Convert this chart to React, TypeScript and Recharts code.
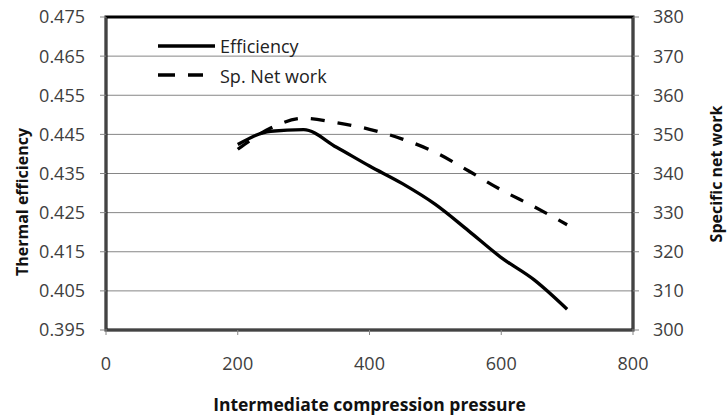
import React from 'react'
import {
  ComposedChart,
  Line,
  XAxis,
  YAxis,
  CartesianGrid,
  ReferenceArea,
  Legend,
} from 'recharts'

const pressure = [200, 250, 300, 350, 400, 450, 500, 550, 600, 650, 700]
const efficiency = [0.4424, 0.4458, 0.4462, 0.4417, 0.4369, 0.4324, 0.4271, 0.4204, 0.4135, 0.4078, 0.4003]
const specificWork = [346.2, 351.6, 354.1, 353.0, 351.3, 348.8, 345.4, 340.7, 335.8, 331.5, 326.9]

const xTicks = [0, 200, 400, 600, 800]
const effTicks = [0.395, 0.405, 0.415, 0.425, 0.435, 0.445, 0.455, 0.465, 0.475]
const workTicks = [300, 310, 320, 330, 340, 350, 360, 370, 380]

const legendItems = [
  { name: 'Efficiency', dash: undefined },
  { name: 'Sp. Net work', dash: '17 13' },
]

const data = pressure.map((p, i) => ({
  pressure: p,
  efficiency: efficiency[i],
  work: specificWork[i],
}))

const FONT = '"Open Sans", sans-serif'
const GRAY = '#868686'
const TEXT = '#404040'

const tickStyle = { fontSize: 18, fill: TEXT, fontFamily: FONT }

const LegendBox = () => (
  <svg width={220} height={70}>
    {legendItems.map((item, i) => (
      <g key={item.name}>
        <line
          x1={8}
          x2={item.dash ? 53 : 65}
          y1={16 + i * 29}
          y2={16 + i * 29}
          stroke="#000"
          strokeWidth={3.5}
          strokeDasharray={item.dash}
        />
        <text x={70} y={23 + i * 29.5} fontSize={18} fontFamily={FONT} fill="#222">
          {item.name}
        </text>
      </g>
    ))}
  </svg>
)

export default function App() {
  return (
    <div style={{ position: 'absolute', left: 0, top: 0, background: '#fff' }}>
      <ComposedChart width={727} height={417} data={data} margin={{ top: 17, right: 0, left: 0, bottom: 0 }}>
        <CartesianGrid vertical={false} stroke={GRAY} yAxisId="left" />
        <XAxis
          dataKey="pressure"
          type="number"
          domain={[0, 800]}
          ticks={xTicks}
          height={87}
          tick={tickStyle}
          tickSize={5}
          tickMargin={22}
          axisLine={{ stroke: GRAY }}
          tickLine={{ stroke: GRAY }}
          label={{
            content: ({ viewBox }: any) => (
              <text
                x={viewBox.x + viewBox.width / 2}
                y={viewBox.y + 81}
                textAnchor="middle"
                fontSize={17.5}
                fontWeight="bold"
                fontFamily={FONT}
                fill="#111"
              >
                Intermediate compression pressure
              </text>
            ),
          }}
        />
        <YAxis
          yAxisId="left"
          domain={[0.395, 0.475]}
          ticks={effTicks}
          width={106}
          tick={tickStyle}
          tickFormatter={(v: number) => v.toFixed(3)}
          tickSize={6}
          tickMargin={15}
          axisLine={{ stroke: GRAY }}
          tickLine={{ stroke: GRAY }}
          label={{
            content: () => (
              <text
                x={28}
                y={202}
                transform="rotate(-90 28 202)"
                textAnchor="middle"
                fontSize={16}
                fontWeight="bold"
                fontFamily={FONT}
                fill="#111"
              >
                Thermal efficiency
              </text>
            ),
          }}
        />
        <YAxis
          yAxisId="right"
          orientation="right"
          domain={[300, 380]}
          ticks={workTicks}
          width={94}
          tick={tickStyle}
          tickSize={6}
          tickMargin={14}
          axisLine={{ stroke: GRAY }}
          tickLine={{ stroke: GRAY }}
          label={{
            content: () => (
              <text
                x={722}
                y={174}
                transform="rotate(-90 722 174)"
                textAnchor="middle"
                fontSize={16}
                fontWeight="bold"
                fontFamily={FONT}
                fill="#111"
              >
                Specific net work
              </text>
            ),
          }}
        />
        <ReferenceArea
          yAxisId="left"
          x1={0}
          x2={800}
          y1={0.395}
          y2={0.475}
          fill="none"
          stroke="#000"
          strokeWidth={3}
          ifOverflow="visible"
        />
        <Line
          yAxisId="left"
          type="monotone"
          dataKey="efficiency"
          name="Efficiency"
          stroke="#000"
          strokeWidth={3.3}
          dot={false}
          isAnimationActive={false}
        />
        <Line
          yAxisId="right"
          type="monotone"
          dataKey="work"
          name="Sp. Net work"
          stroke="#000"
          strokeWidth={3.3}
          strokeDasharray="14 13"
          dot={false}
          isAnimationActive={false}
        />
        <Legend
          layout="vertical"
          align="center"
          verticalAlign="middle"
          wrapperStyle={{ left: 150, top: 30, width: 220 }}
          content={() => <LegendBox />}
        />
      </ComposedChart>
    </div>
  )
}
